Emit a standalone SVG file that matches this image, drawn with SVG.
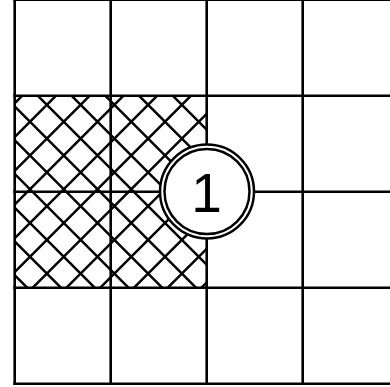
<svg xmlns="http://www.w3.org/2000/svg" width="390" height="387" viewBox="0 0 390 387">
<style>
.g{stroke:#000;stroke-width:2.6;fill:none}
.h{stroke:#000;stroke-width:2.5;fill:none}
.c{stroke:#000;stroke-width:2.5;fill:none}
.t{font-family:"Liberation Sans",Arial,sans-serif;font-size:55px;fill:#000;text-anchor:middle}
</style>
<defs>
<clipPath id="hc"><rect x="14.7" y="95.7" width="192" height="192"/></clipPath>
</defs>
<rect width="390" height="387" fill="#fff"/>
<g id="hatch" clip-path="url(#hc)" class="h">
<path d="M-170.45 90L34.55 295M-136.7 90L68.3 295M-102.95 90L102.05 295M-69.2 90L135.8 295M-35.45 90L169.55 295M-1.7 90L203.3 295M32.05 90L237.05 295M65.8 90L270.8 295M99.55 90L304.55 295M133.3 90L338.3 295M167.05 90L372.05 295M200.8 90L405.8 295"/>
<path d="M27.95 90L-177.05 295M61.7 90L-143.3 295M95.45 90L-109.55 295M129.2 90L-75.8 295M162.95 90L-42.05 295M196.7 90L-8.3 295M230.45 90L25.45 295M264.2 90L59.2 295M297.95 90L92.95 295M331.7 90L126.7 295M365.45 90L160.45 295M399.2 90L194.2 295"/>
</g>
<g id="grid" class="g">
<path d="M14.7 -1V385M110.7 -1V385M206.7 -1V385M302.7 -1V385"/>
<path d="M13.4 -0.3H392M13.4 95.7H392M13.4 191.7H392M13.4 287.7H392M13.4 383.7H392"/>
</g>
<g id="node1">
<circle cx="207" cy="191.5" r="47" fill="#fff" stroke="none"/>
<circle class="c" cx="207" cy="191.5" r="47"/>
<circle class="c" cx="207" cy="191.5" r="42.5"/>
<text class="t" x="206.5" y="211.5">1</text>
</g>
<g id="connectors"></g>
</svg>
